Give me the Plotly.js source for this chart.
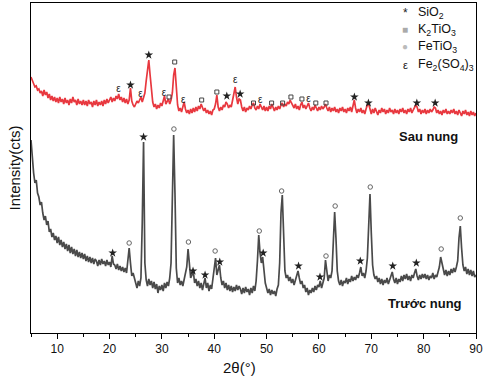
<!DOCTYPE html>
<html>
<head>
<meta charset="utf-8">
<script src="https://cdn.plot.ly/plotly-3.0.1.min.js"></script>
<style>html,body{margin:0;padding:0;background:#fff;}#chart{width:489px;height:380px;}</style>
</head>
<body>
<div id="chart"></div>
<script>
// 2θ measurement grid: start and step (degrees)
const twoThetaStart = 5;
const twoThetaStep = 0.25;

// Sau nung (after calcination) intensity, arbitrary units, one value per grid step (5° .. 90°)
const sauNung = [
  256,252,249,246,247,243,244,240,242,237,243,238,241,235,239,233,237,232,236,231,
  235,230,236,231,234,229,235,230,233,228,234,230,236,231,233,228,234,229,232,228,
  233,228,232,227,233,229,231,226,232,228,233,227,231,228,232,227,233,229,234,230,
  233,236,231,235,232,237,234,239,233,236,231,235,230,234,229,233,245,232,228,226,
  229,232,230,234,236,231,235,240,252,266,273,258,240,231,226,229,224,228,225,230,
  227,233,237,229,231,234,229,233,240,258,265,245,228,222,225,221,228,231,224,220,
  223,219,224,220,225,221,226,222,227,224,229,226,222,225,220,223,219,222,218,223,
  224,229,238,226,222,226,223,228,226,231,229,225,228,226,232,240,246,236,229,234,
  233,226,222,226,221,225,223,227,224,228,230,225,223,227,224,229,226,223,227,222,
  226,222,227,224,229,225,222,226,223,227,224,228,230,226,229,227,231,229,233,230,
  228,225,229,224,227,223,228,231,225,228,224,227,230,225,222,226,223,228,225,222,
  226,223,227,224,226,229,225,222,226,221,225,222,226,221,224,220,225,222,226,221,
  224,220,225,222,226,221,227,233,225,220,224,221,225,220,223,219,224,228,229,222,
  219,224,220,225,221,218,223,220,225,221,224,219,223,220,225,221,223,219,224,220,
  223,219,224,221,225,220,223,219,224,221,225,220,223,225,228,226,221,224,219,223,
  220,224,219,223,220,224,221,223,226,225,220,223,219,222,218,223,220,224,219,222,
  219,223,220,224,219,222,218,223,220,217,222,219,223,218,221,217,222,218,221,217,220
];

// Trước nung (before calcination) intensity, same grid
const truocNung = [
  193,172,160,150,153,140,136,128,131,120,113,117,108,112,101,104,96,100,93,97,
  90,96,88,93,86,91,84,89,82,88,80,86,79,84,77,83,76,81,75,80,
  74,79,72,77,71,76,70,75,69,74,72,67,73,68,74,69,72,67,73,68,
  71,66,77,69,68,64,69,63,67,62,66,61,65,60,70,85,70,57,60,53,
  50,45,52,47,55,110,191,70,53,47,54,48,52,45,51,44,49,40,47,43,
  48,42,50,45,51,47,55,70,130,198,140,65,50,55,48,52,47,53,58,66,
  84,65,55,58,62,50,54,47,52,45,50,43,49,55,45,50,42,48,44,55,
  68,75,58,62,68,55,48,52,45,50,43,48,42,47,41,46,42,48,43,47,
  44,39,45,40,46,41,44,38,45,40,47,42,52,72,98,80,70,76,62,50,
  45,40,44,38,43,39,42,37,44,48,70,120,138,85,62,55,58,52,56,50,
  54,48,53,57,62,55,49,52,45,48,41,45,38,43,40,45,41,47,43,48,
  46,52,45,50,55,73,60,52,58,55,62,85,121,95,62,52,48,53,47,52,
  50,55,49,54,51,57,52,56,53,58,55,60,66,57,60,55,62,75,110,139,
  100,68,58,54,57,51,55,49,54,48,53,50,55,49,53,57,61,54,50,55,
  49,54,51,57,52,58,54,59,53,57,52,58,55,60,64,57,53,58,54,59,
  55,59,54,58,53,57,55,60,54,58,56,61,66,76,70,62,58,63,57,62,
  58,64,60,65,61,66,72,95,107,85,68,62,66,59,64,58,63,57,62,56,58
];

// Phase markers (peak assignments): 2θ position and marker height
const sauStarX = [24.0, 27.5, 42.4, 44.95, 66.77, 69.45, 78.7, 82.2];
const sauStarY = [248, 278, 237, 239, 236, 230, 230, 230];
const sauSquareX = [31.36, 32.45, 37.6, 40.5, 47.5, 50.96, 53.06, 54.65, 56.75, 59.4, 61.35];
const sauSquareY = [236, 271, 233, 241, 230, 230, 230, 236, 234, 230, 230];
const sauEpsX = [21.7, 25.9, 30.4, 34.1, 44.0, 48.8, 58.0];
const sauEpsY = [244, 239, 240, 233, 253, 233, 234];

const truocStarX = [20.6, 26.5, 35.95, 38.25, 41.06, 49.35, 56.1, 60.2, 67.9, 74.1, 78.6];
const truocStarY = [80, 196, 62, 58, 71, 80, 67, 56, 72, 67, 70];
const truocCircleX = [23.75, 32.3, 35.07, 40.17, 48.6, 52.87, 61.35, 63.1, 69.8, 83.35, 87.0];
const truocCircleY = [90, 204, 91, 82, 102, 142, 77, 127, 146, 84, 115];

const xTickVals = [10, 20, 30, 40, 50, 60, 70, 80, 90];

const twoTheta = sauNung.map((_, i) => +(twoThetaStart + i * twoThetaStep).toFixed(2));

const FONT = 'Liberation Sans, Arial, sans-serif';

const traces = [
  { x: twoTheta, y: truocNung, type: 'scatter', mode: 'lines', name: 'Trước nung',
    line: { color: '#4a4a4a', width: 1.7 }, showlegend: false, hoverinfo: 'skip' },
  { x: twoTheta, y: sauNung, type: 'scatter', mode: 'lines', name: 'Sau nung',
    line: { color: '#e8383f', width: 1.7 }, showlegend: false, hoverinfo: 'skip' },
  { x: sauStarX.concat(truocStarX), y: sauStarY.concat(truocStarY), type: 'scatter', mode: 'markers',
    marker: { symbol: 'star', size: 6.5, color: '#222' }, showlegend: false },
  { x: sauSquareX, y: sauSquareY, type: 'scatter', mode: 'markers',
    marker: { symbol: 'square-open', size: 4, color: '#444', line: { width: 1 } }, showlegend: false },
  { x: truocCircleX, y: truocCircleY, type: 'scatter', mode: 'markers',
    marker: { symbol: 'circle-open', size: 4.5, color: '#666', line: { width: 1 } }, showlegend: false },
  { x: sauEpsX, y: sauEpsY, type: 'scatter', mode: 'text', text: sauEpsX.map(() => 'ε'),
    textfont: { family: FONT, size: 10, color: '#222' }, showlegend: false }
];

function px(xp) { return (xp - 31) / 445; }
function py(yp) { return (333 - yp) / 330; }

const legendItems = [
  { sym: '*', symSize: 12, symColor: '#222', label: 'SiO<sub>2</sub>', y: 13 },
  { sym: '■', symSize: 10, symColor: '#aaa', label: 'K<sub>2</sub>TiO<sub>3</sub>', y: 30 },
  { sym: '●', symSize: 10, symColor: '#bbb', label: 'FeTiO<sub>3</sub>', y: 47 },
  { sym: 'ε', symSize: 11, symColor: '#222', label: 'Fe<sub>2</sub>(SO<sub>4</sub>)<sub>3</sub>', y: 65 }
];

const annotations = [];
legendItems.forEach(it => {
  annotations.push({ xref: 'paper', yref: 'paper', x: px(405), y: py(it.y), text: it.sym, showarrow: false,
    xanchor: 'center', yanchor: 'middle', font: { family: FONT, size: it.symSize, color: it.symColor } });
  annotations.push({ xref: 'paper', yref: 'paper', x: px(416), y: py(it.y), text: it.label, showarrow: false,
    xanchor: 'left', yanchor: 'middle', font: { family: FONT, size: 12.5, color: '#111' } });
});
annotations.push({ xref: 'paper', yref: 'paper', x: px(428), y: py(137), text: '<b>Sau nung</b>', showarrow: false,
  xanchor: 'center', yanchor: 'middle', font: { family: FONT, size: 13, color: '#111' } });
annotations.push({ xref: 'paper', yref: 'paper', x: px(425), y: py(303), text: '<b>Trước nung</b>', showarrow: false,
  xanchor: 'center', yanchor: 'middle', font: { family: FONT, size: 13, color: '#111' } });
annotations.push({ xref: 'paper', yref: 'paper', x: px(239), y: py(368), text: '2θ(°)', showarrow: false,
  xanchor: 'center', yanchor: 'middle', font: { family: FONT, size: 15, color: '#111' } });

const layout = {
  width: 489, height: 380,
  margin: { l: 31, r: 13, t: 3, b: 47 },
  paper_bgcolor: '#fff', plot_bgcolor: '#fff',
  showlegend: false,
  font: { family: FONT, color: '#111' },
  xaxis: {
    range: [5, 90], tickvals: xTickVals, ticks: 'outside', ticklen: 5, tickwidth: 1, tickcolor: '#000',
    minor: { dtick: 5, tick0: 5, ticks: 'outside', ticklen: 3, tickcolor: '#000', showgrid: false },
    showline: true, linecolor: '#000', linewidth: 1, mirror: true, showgrid: false, zeroline: false,
    tickfont: { family: FONT, size: 12, color: '#111' }
  },
  yaxis: {
    range: [0, 330], showticklabels: false, ticks: '', showline: true, linecolor: '#000', linewidth: 1,
    mirror: true, showgrid: false, zeroline: false,
    title: { text: 'Intensity(cts)', font: { family: FONT, size: 15, color: '#111' }, standoff: 5 }
  },
  annotations: annotations
};

Plotly.newPlot('chart', traces, layout, { displayModeBar: false, staticPlot: true });
</script>
</body>
</html>
